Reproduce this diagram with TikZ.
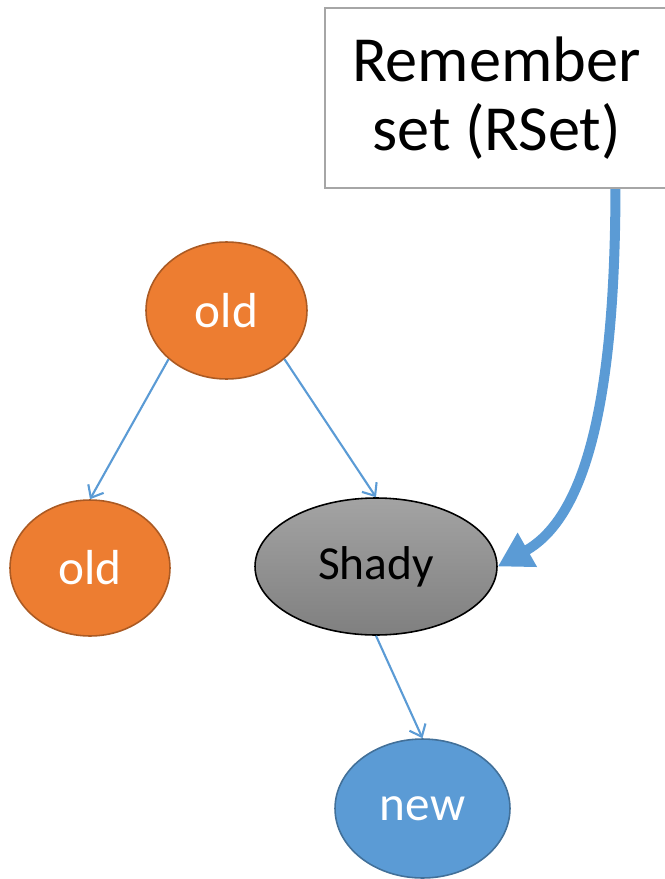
\documentclass[tikz,border=0pt]{standalone}
\usepackage{fontspec}
\setmainfont{Carlito}
\usetikzlibrary{arrows.meta, positioning, shapes.geometric, calc}
\definecolor{corange}{HTML}{ED7D31}
\definecolor{cblue}{HTML}{5B9BD5}
\definecolor{cgrey}{HTML}{A6A6A6}
\tikzset{
  every picture/.style={line width=1.1pt},
  gen/.style={ellipse, draw=#1!72!black, fill=#1, line width=0.9pt, inner sep=0pt, text=white, font=\fontsize{28}{30}\selectfont},
  gen/.default=corange,
  rsetbox/.style={draw=cgrey, fill=white, line width=1.2pt, align=center, inner sep=0pt, font=\fontsize{36.6}{39}\selectfont},
  ptr/.style={-{Straight Barb[length=6pt, width=10pt]}, draw=cblue, line width=1.2pt},
  barrier/.style={-{Triangle[length=0.68cm, width=0.74cm]}, draw=cblue, line width=0.2cm},
}

\begin{document}
\begin{tikzpicture}[x=0.02cm, y=-0.02cm]
  \useasboundingbox (0,0) rectangle (664,879);
  \node[rsetbox, minimum width=6.86cm, minimum height=3.6cm] (rset) at (496.5,98) {Remember\\set (RSet)};
  \node[gen, minimum width=3.22cm, minimum height=2.74cm] (oldtop) at (226.5,310.5) {old};
  \node[gen, minimum width=3.2cm, minimum height=2.72cm] (oldleft) at (90,568) {old};
  \node[ellipse, draw=black, line width=0.9pt, top color=black!36, bottom color=black!50, inner sep=0pt,
        minimum width=4.84cm, minimum height=2.74cm, font=\fontsize{27}{29}\selectfont] (shady) at (376,566.5) {Shady};
  \node[gen=cblue, minimum width=3.5cm, minimum height=2.78cm] (new) at (422.5,808.5) {new};
  % references
  \draw[ptr] (oldtop.-140) -- (oldleft.north);
  \draw[ptr] (oldtop.-40) -- (shady.north);
  \draw[ptr] (shady.south) -- (new.north);
  % remembered set entry
  \coordinate (tail) at ([xshift=2.38cm]rset.south);
  \draw[barrier] (tail) .. controls (615,420) and (580,520) .. (shady.east);
\end{tikzpicture}
\end{document}
